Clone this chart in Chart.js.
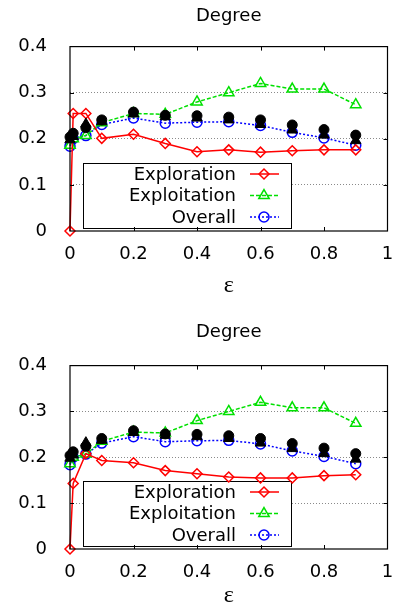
<!DOCTYPE html>
<html>
<head>
<meta charset="utf-8">
<script src="https://cdn.jsdelivr.net/npm/chart.js@4.4.0/dist/chart.umd.min.js"></script>
<style>
  html, body { margin: 0; padding: 0; background: #fff; }
  canvas { display: block; }
</style>
</head>
<body>
<canvas id="topChart" width="395" height="300"></canvas>
<canvas id="bottomChart" width="395" height="314"></canvas>
<script>
// epsilon values on the x axis
const epsilon = [0, 0.01, 0.05, 0.1, 0.2, 0.3, 0.4, 0.5, 0.6, 0.7, 0.8, 0.9];

// exploration differs between the two panels
const explorationTop = [0, 0.255, 0.255, 0.201, 0.21, 0.19, 0.172, 0.176, 0.171, 0.174, 0.176, 0.176];
const explorationBottom = [0, 0.143, 0.208, 0.193, 0.188, 0.171, 0.164, 0.157, 0.155, 0.155, 0.16, 0.162];

// same in both panels
const exploitation = [0.186, 0.2, 0.207, 0.235, 0.255, 0.253, 0.28, 0.3, 0.32, 0.308, 0.308, 0.274];
const overall = [0.184, 0.2, 0.207, 0.231, 0.245, 0.234, 0.236, 0.237, 0.229, 0.214, 0.202, 0.186];

// unlabelled black markers
const blackCircles = [0.204, 0.212, 0.224, 0.241, 0.258, 0.251, 0.25, 0.247, 0.241, 0.23, 0.22, 0.208];
const blackTriangles = [0.198, 0.205, 0.232, 0.237, 0.254, 0.248, 0.245, 0.241, 0.231, 0.219, 0.208, 0.196];

const xTicks = [0, 0.2, 0.4, 0.6, 0.8, 1];
const yTicks = [0, 0.1, 0.2, 0.3, 0.4];

const FONT = 'DejaVu Sans';

function pts(arr) {
    return epsilon.map((e, i) => ({ x: e, y: arr[i] }));
}

// gnuplot style frame with inward ticks
const framePlugin = {
    id: 'framePlugin',
    afterDatasetsDraw(chart) {
        const ctx = chart.ctx;
        const a = chart.chartArea;
        const xs = chart.scales.x;
        const ys = chart.scales.y;
        ctx.save();
        ctx.strokeStyle = '#000';
        ctx.lineWidth = 1.2;
        ctx.setLineDash([]);
        ctx.strokeRect(a.left, a.top, a.right - a.left, a.bottom - a.top);
        ctx.lineWidth = 1;
        ctx.beginPath();
        xTicks.slice(1, -1).forEach(v => {
            const px = Math.round(xs.getPixelForValue(v)) + 0.5;
            ctx.moveTo(px, a.bottom); ctx.lineTo(px, a.bottom - 4);
            ctx.moveTo(px, a.top); ctx.lineTo(px, a.top + 4);
        });
        yTicks.slice(1, -1).forEach(v => {
            const py = Math.round(ys.getPixelForValue(v)) + 0.5;
            ctx.moveTo(a.left, py); ctx.lineTo(a.left + 4, py);
            ctx.moveTo(a.right, py); ctx.lineTo(a.right - 4, py);
        });
        ctx.stroke();
        ctx.restore();
    }
};

// legend box inside the plot, text right aligned with the sample on the right
const boxLegendPlugin = {
    id: 'boxLegend',
    beforeDatasetsDraw(chart) {
        const ctx = chart.ctx;
        const a = chart.chartArea;
        const items = chart.data.datasets.filter(d => d.label);
        const left = a.left + 13;
        const w = 208;
        const h = 65;
        const top = a.bottom - 3 - h;
        ctx.save();
        ctx.fillStyle = '#fff';
        ctx.fillRect(left, top, w, h);
        ctx.strokeStyle = '#000';
        ctx.lineWidth = 1;
        ctx.strokeRect(left + 0.5, top + 0.5, w, h);
        items.forEach((d, i) => {
            const cy = top + 11 + i * 21.5;
            ctx.fillStyle = '#000';
            ctx.font = '18px "' + FONT + '"';
            ctx.textAlign = 'right';
            ctx.textBaseline = 'middle';
            ctx.fillText(d.label, left + 153, cy + 1);
            ctx.strokeStyle = d.borderColor;
            ctx.lineWidth = d.borderWidth;
            ctx.setLineDash(d.borderDash || []);
            ctx.beginPath();
            ctx.moveTo(left + 167, cy);
            ctx.lineTo(left + 196, cy);
            ctx.stroke();
            ctx.setLineDash([]);
            ctx.lineWidth = d.pointBorderWidth;
            ctx.fillStyle = 'rgba(0,0,0,0)';
            Chart.helpers.drawPoint(ctx, {
                pointStyle: d.pointStyle,
                radius: d.pointRadius,
                rotation: 0,
                borderWidth: d.pointBorderWidth
            }, left + 181, cy);
        });
        ctx.restore();
    }
};

function makeChart(id, exploration, cfg) {
    const datasets = [
        {
            label: '',
            data: pts(blackCircles),
            showLine: false,
            pointStyle: 'circle',
            pointRadius: 5,
            backgroundColor: '#000',
            borderColor: '#000',
            pointBorderWidth: 1,
            order: 0,
            clip: false
        },
        {
            label: '',
            data: pts(blackTriangles),
            showLine: false,
            pointStyle: 'triangle',
            pointRadius: 6,
            backgroundColor: '#000',
            borderColor: '#000',
            pointBorderWidth: 1,
            order: 0,
            clip: false
        },
        {
            label: 'Exploration',
            data: pts(exploration),
            borderColor: '#ff0000',
            backgroundColor: 'rgba(0,0,0,0)',
            borderWidth: 1.5,
            pointStyle: 'rectRot',
            pointRadius: 5,
            pointBorderWidth: 1.5,
            tension: 0,
            order: 1,
            clip: false
        },
        {
            label: 'Exploitation',
            data: pts(exploitation),
            borderColor: '#00e000',
            backgroundColor: 'rgba(0,0,0,0)',
            borderWidth: 1.5,
            borderDash: [4, 2],
            pointStyle: 'triangle',
            pointRadius: 6,
            pointBorderWidth: 1.5,
            tension: 0,
            order: 2,
            clip: false
        },
        {
            label: 'Overall',
            data: pts(overall),
            borderColor: '#0000ff',
            backgroundColor: 'rgba(0,0,0,0)',
            borderWidth: 1.5,
            borderDash: [2, 2],
            pointStyle: 'circle',
            pointRadius: 5,
            pointBorderWidth: 1.5,
            tension: 0,
            order: 3,
            clip: false
        }
    ];

    return new Chart(document.getElementById(id).getContext('2d'), {
        type: 'line',
        data: { datasets },
        options: {
            responsive: false,
            animation: false,
            layout: { padding: { left: 0, right: 7, top: 0, bottom: 0 } },
            plugins: {
                legend: { display: false },
                tooltip: { enabled: false },
                title: {
                    display: true,
                    text: 'Degree',
                    fullSize: false,
                    color: '#000',
                    font: { family: FONT, size: 18, weight: 'normal' },
                    padding: { top: cfg.titleTop, bottom: cfg.titleBottom }
                }
            },
            scales: {
                x: {
                    type: 'linear',
                    min: 0,
                    max: 1,
                    afterBuildTicks(scale) {
                        scale.ticks = xTicks.map(v => ({ value: v }));
                    },
                    afterFit(scale) {
                        scale.height = cfg.xHeight;
                        scale.paddingLeft = 0;
                        scale.paddingRight = 0;
                    },
                    grid: { display: false, drawTicks: false },
                    border: { display: false },
                    ticks: {
                        color: '#000',
                        padding: cfg.xPad,
                        maxRotation: 0,
                        font: { family: FONT, size: 18 },
                        callback: v => String(v)
                    },
                    title: {
                        display: true,
                        text: 'ε',
                        color: '#000',
                        font: { family: 'Liberation Serif', size: 24, lineHeight: 1 },
                        padding: { top: 0, bottom: cfg.xTitlePad }
                    }
                },
                y: {
                    min: 0,
                    max: 0.4,
                    afterBuildTicks(scale) {
                        scale.ticks = yTicks.map(v => ({ value: v }));
                    },
                    afterFit(scale) { scale.width = 70; },
                    grid: {
                        drawTicks: false,
                        lineWidth: 1,
                        color: c => (c.tick && c.tick.value > 0 && c.tick.value < 0.4) ? '#8a8a8a' : 'rgba(0,0,0,0)'
                    },
                    border: { display: false, dash: [1, 2] },
                    ticks: {
                        color: '#000',
                        padding: 23,
                        font: { family: FONT, size: 18 }
                    }
                }
            }
        },
        plugins: [boxLegendPlugin, framePlugin]
    });
}

makeChart('topChart', explorationTop, { titleTop: 6, titleBottom: 19, xHeight: 69, xPad: 13, xTitlePad: 2 });
makeChart('bottomChart', explorationBottom, { titleTop: 22, titleBottom: 22, xHeight: 65, xPad: 13, xTitlePad: 6 });
</script>
</body>
</html>
